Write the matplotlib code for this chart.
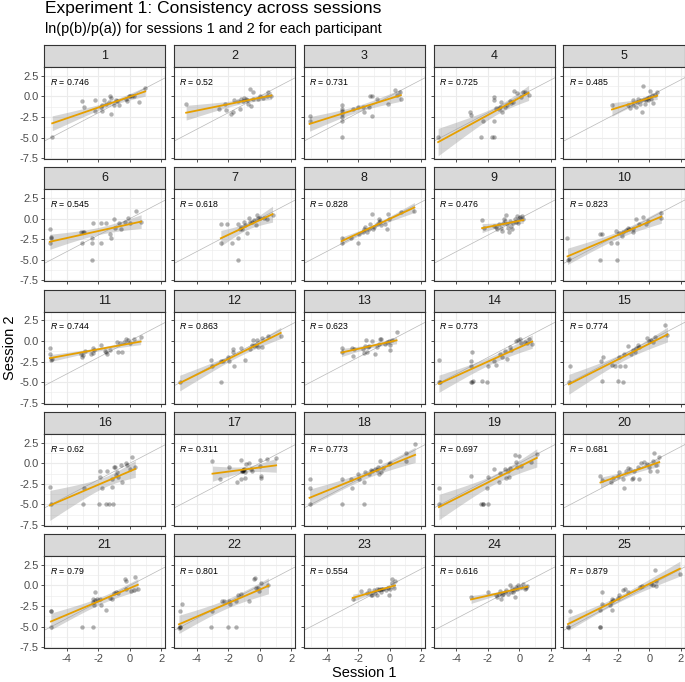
import numpy as np
import matplotlib
matplotlib.use("Agg")
import matplotlib.pyplot as plt

plt.rcParams['font.family'] = ['Liberation Sans', 'DejaVu Sans']
plt.rcParams['mathtext.fontset'] = 'custom'
plt.rcParams['mathtext.it'] = 'Liberation Sans:italic'
plt.rcParams['mathtext.rm'] = 'Liberation Sans'

# session 1 (x) and session 2 (y) log-odds, one pair of lists per participant
s1_01 = [-4.93, -3.02, -2.94, -2.19, -2.19, -1.85, -1.80, -1.74, -1.66, -1.53, -1.27, -1.17, -1.22, -1.32, -1.01, -0.90, -0.85, -0.70, -0.28, -0.20, -0.07, 0.01, 0.11, 0.29, 0.55, 0.97]
s2_01 = [-4.90, -0.62, -1.34, -0.46, -1.82, -1.26, -1.10, -1.82, -0.42, -0.94, -0.02, -0.18, -2.18, -0.70, -1.10, -0.46, -0.62, -1.02, -0.30, -0.58, 0.02, 0.06, 0.02, -0.02, -0.70, 1.02]
s1_02 = [-4.67, -2.60, -2.19, -2.13, -1.80, -1.67, -1.61, -1.35, -1.27, -1.17, -1.09, -1.01, -0.88, -0.80, -0.72, -0.62, -0.57, -0.44, -0.44, -0.10, 0.00, 0.20, 0.46, 0.54, 0.74]
s2_02 = [-0.90, -1.50, -0.90, -1.70, -2.10, -1.90, -0.42, -0.62, -1.58, -0.30, -0.62, -0.18, -0.30, -0.50, -0.90, 0.90, -1.18, 0.58, -0.30, -0.30, -0.02, -0.18, -0.02, 0.58, -0.02]
s1_03 = [-5.08, -5.03, -3.05, -3.05, -3.05, -3.05, -3.05, -3.05, -3.05, -2.35, -2.01, -1.69, -1.61, -1.30, -1.22, -1.11, -1.09, -0.78, -0.12, 0.34, 0.45, 0.66, 0.71]
s2_03 = [-2.38, -3.02, -1.10, -1.50, -1.82, -2.10, -2.50, -3.02, -4.94, -1.58, -1.34, -1.30, -1.90, -1.30, -0.02, -0.02, -2.38, -0.38, -0.90, 0.78, 0.18, 0.50, -0.30]
s1_04 = [-5.16, -3.15, -3.10, -2.45, -2.32, -1.72, -1.64, -1.64, -1.64, -1.64, -1.46, -1.33, -1.25, -1.20, -1.14, -0.93, -0.80, -0.62, -0.54, -0.41, -0.36, -0.15, 0.11, 0.24, 0.32, 0.58]
s2_04 = [-4.98, -1.90, -2.30, -4.94, -2.94, -4.94, -4.94, -0.10, -0.42, -3.02, -1.42, -1.50, -1.30, -0.70, -1.90, -1.30, -1.10, -0.62, -0.82, -0.70, 0.66, 0.42, -0.10, 0.58, 0.50, 0.10]
s1_05 = [-2.37, -1.33, -1.20, -1.06, -1.01, -0.85, -0.80, -0.72, -0.59, -0.54, -0.46, -0.41, -0.33, -0.28, -0.23, -0.15, -0.07, -0.02, 0.06, 0.11, 0.19, 0.37, 0.50, 0.24]
s2_05 = [-1.10, -1.02, -1.38, -0.42, -1.10, -1.30, -0.70, -0.30, -0.90, -0.50, -1.90, 1.30, -0.30, -0.90, -0.50, -0.22, -0.42, -0.10, 0.70, -0.30, 0.10, 0.10, 0.50, -0.78]
s1_06 = [-5.08, -5.03, -5.00, -5.08, -3.05, -3.10, -3.00, -2.89, -2.40, -2.40, -2.32, -2.40, -1.85, -1.85, -1.53, -1.24, -1.19, -0.98, -0.93, -0.67, -0.59, -0.33, -0.10, -0.02, 0.37, 0.71]
s2_06 = [-1.30, -2.22, -2.38, -2.98, -2.98, -1.58, -1.58, -1.58, -2.30, -2.98, -0.50, -4.98, -0.58, -2.98, -0.58, -1.90, -2.30, -0.10, -1.10, -0.58, -1.30, -0.38, 0.02, -0.50, 0.90, -0.42]
s1_07 = [-2.47, -2.47, -2.06, -1.74, -1.40, -1.35, -1.40, -1.27, -1.22, -1.14, -1.01, -0.96, -0.83, -0.70, -0.62, -0.49, -0.36, -0.23, -0.18, -0.10, 0.03, 0.29, 0.47, 0.81]
s2_07 = [-0.70, -2.98, -0.70, -2.98, -2.38, -4.98, -0.70, -1.30, -0.98, -1.22, -0.38, -0.82, -1.70, 0.02, -0.42, -0.38, -0.18, -0.82, 0.38, 0.10, 0.02, 0.10, -0.02, 0.42]
s1_08 = [-3.05, -3.00, -2.42, -2.00, -1.95, -1.69, -1.61, -1.56, -1.43, -1.30, -1.22, -1.09, -1.04, -0.96, -0.78, -0.70, -0.65, -0.60, -0.52, -0.31, -0.18, -0.12, -0.05, 0.74, 1.57]
s2_08 = [-2.98, -2.38, -2.38, -2.98, -1.90, -1.62, -1.30, -0.98, -1.62, -1.22, -0.70, 0.50, -1.30, -0.98, -0.70, -0.42, -0.10, -0.30, -0.78, -0.62, -1.22, 0.50, -0.10, 0.78, 0.90]
s1_09 = [-2.37, -2.24, -1.59, -1.46, -1.41, -1.33, -1.20, -1.14, -1.06, -0.99, -0.93, -0.88, -0.80, -0.72, -0.67, -0.62, -0.54, -0.46, -0.41, -0.28, -0.20, -0.15, -0.07, -0.02, 0.06, 0.16, 0.24]
s2_09 = [-0.22, -1.10, -0.90, -0.98, -1.30, -0.70, -1.10, -1.50, -0.50, -0.10, -0.30, 0.38, -0.70, -1.10, -1.62, -0.30, -0.90, -1.30, -0.58, -0.10, -0.42, 0.30, -0.58, 0.02, 0.22, 0.30, -0.10]
s1_10 = [-5.19, -5.16, -5.11, -3.10, -3.10, -3.02, -2.45, -2.06, -2.03, -2.11, -1.90, -1.72, -1.64, -1.46, -1.38, -1.27, -1.06, -1.01, -0.85, -0.67, -0.41, -0.23, -0.07, 0.71, 0.76]
s2_10 = [-2.38, -4.98, -4.90, -4.98, -1.90, -1.90, -2.98, -2.98, -4.98, -1.50, -1.70, -2.10, -1.58, -1.38, -1.10, -1.22, -1.58, -1.30, -0.10, -0.70, 0.18, -0.70, -0.30, 0.10, 0.70]
s1_11 = [-5.08, -5.06, -4.98, -4.93, -3.10, -3.02, -2.97, -2.84, -2.45, -2.37, -2.32, -2.27, -1.85, -1.61, -1.53, -1.45, -1.27, -0.80, -0.75, -0.62, -0.49, -0.36, -0.23, -0.10, 0.03, 0.24, 0.68]
s2_11 = [-0.90, -1.58, -2.30, -2.18, -1.58, -1.90, -1.70, -1.18, -1.58, -0.90, -1.50, -1.10, -0.50, -1.18, -1.38, -1.62, -1.10, -0.10, -1.30, -0.30, -1.30, -0.10, 0.18, 0.10, -0.22, 0.18, 0.50]
s1_12 = [-5.08, -3.12, -3.05, -2.45, -2.47, -2.34, -2.00, -1.95, -1.69, -1.67, -1.61, -1.22, -0.91, -0.62, -0.49, -0.44, -0.36, -0.26, -0.18, -0.10, 0.16, 0.16, 0.52, 1.33]
s2_12 = [-5.02, -2.30, -3.02, -5.02, -2.38, -2.38, -1.98, -2.38, -1.30, -1.02, -3.02, -0.90, -2.30, -0.98, -0.50, 0.10, -0.62, -0.50, 0.10, -0.70, -0.78, 0.30, 0.58, 0.62]
s1_13 = [-3.05, -3.05, -2.40, -2.34, -2.27, -1.69, -1.61, -1.56, -1.48, -1.43, -1.35, -1.30, -1.09, -0.91, -0.83, -0.70, -0.60, -0.52, -0.31, -0.18, -0.05, 0.00, 0.05, 0.13, 0.44]
s2_13 = [-0.90, -1.30, -0.90, -1.82, -1.02, -1.02, -1.42, -0.62, 0.10, -1.30, -0.70, -0.62, -0.02, -1.58, -0.70, -0.38, 0.22, 0.18, -0.38, -0.18, -0.02, -0.50, -1.10, 0.10, 1.02]
s1_14 = [-5.11, -5.11, -5.03, -3.10, -3.02, -2.94, -2.37, -2.03, -3.02, -3.07, -3.07, -1.98, -1.64, -1.51, -1.25, -1.14, -0.93, -0.80, -0.62, -0.54, -0.20, -0.10, 0.06, 0.11, 0.32, 0.50, 0.58, 0.81]
s2_14 = [-2.30, -5.02, -5.02, -5.02, -5.02, -4.90, -4.90, -4.98, -1.38, -2.38, -3.02, -3.02, -2.38, -2.90, -1.62, -1.98, -1.22, -2.22, -0.78, -1.10, -0.02, 0.10, 0.18, -0.22, -0.10, -0.30, 0.18, -0.38]
s1_15 = [-5.11, -5.06, -3.07, -2.97, -3.02, -2.37, -2.19, -1.98, -1.64, -1.85, -1.90, -1.53, -1.59, -1.33, -1.14, -1.06, -0.93, -0.85, -0.75, -0.67, -0.15, -0.02, 0.11, 0.24, 0.37, 1.02, 1.15]
s2_15 = [-5.02, -3.02, -2.38, -1.90, -4.90, -2.90, -3.02, -4.90, -5.02, -3.02, -1.90, -3.02, -1.62, -0.62, -1.58, -1.10, -1.30, -0.90, -0.50, -0.78, 0.30, 0.02, 0.10, -0.10, 0.50, 1.90, 0.70]
s1_16 = [-5.08, -5.03, -2.97, -2.89, -1.98, -1.92, -1.87, -1.80, -1.53, -1.48, -1.32, -1.14, -1.11, -1.06, -1.01, -0.93, -0.88, -0.80, -0.75, -0.54, -0.49, -0.28, -0.18, -0.02, 0.16, 0.34]
s2_16 = [-2.90, -4.98, -4.98, -2.98, -4.90, -0.90, -1.70, -2.98, -4.98, -0.98, -4.98, -1.90, -2.90, -4.98, -0.50, -0.42, -1.38, -1.10, -1.62, -0.18, -2.30, -0.02, -0.18, -0.70, 0.78, -0.50]
s1_17 = [-3.00, -2.53, -1.95, -1.43, -1.22, -1.22, -1.14, -1.09, -1.04, -1.01, -0.96, -0.96, -0.88, -0.70, -0.57, -0.49, 0.00, 0.00, 0.05, 0.05, 0.44, 1.04, -1.05, -1.10]
s2_17 = [0.30, -1.90, -0.50, -2.22, 0.38, -1.90, -0.90, -0.78, -0.98, -0.70, -1.02, -1.78, -0.10, -0.02, -0.70, -0.98, 0.38, -0.30, -1.50, -1.78, 0.50, 0.62, -0.85, -0.95]
s1_18 = [-5.08, -5.08, -5.08, -3.05, -3.00, -2.42, -2.40, -2.00, -1.95, -1.64, -1.61, -1.56, -1.30, -1.17, -1.09, -0.91, -0.83, -0.72, -0.65, -0.60, -0.52, -0.39, -0.05, 0.00, 1.04, 1.04, 1.62]
s2_18 = [-1.90, -2.98, -4.98, -1.90, -4.98, -1.90, -2.98, -1.30, -1.90, -4.98, -2.30, -1.10, -1.30, -0.82, -0.98, -0.70, -0.82, -0.50, -1.30, 0.30, -1.10, -0.58, -0.10, -0.02, 1.18, 0.30, 2.38]
s1_19 = [-5.11, -5.11, -3.07, -2.45, -2.29, -1.98, -2.03, -1.98, -1.64, -1.33, -1.25, -0.93, -0.86, -0.72, -0.67, -0.62, -0.28, -0.20, -0.15, -0.02, 0.11, 0.76, 1.10, -2.29]
s2_19 = [-2.98, -4.98, -1.50, -4.98, -4.98, -4.98, -2.98, -1.70, -0.70, -2.30, -1.22, -0.70, -1.78, -0.98, -1.62, -0.58, 0.94, 0.10, -0.50, 0.90, -0.30, 0.10, 1.10, -4.98]
s1_20 = [-3.10, -3.02, -2.45, -2.32, -1.98, -1.90, -1.64, -1.59, -1.46, -1.33, -1.25, -1.12, -1.06, -0.98, -0.75, -0.67, -0.54, -0.33, -0.15, -0.02, 0.06, 0.24, 0.32, 0.42, 0.50, 0.63]
s2_20 = [-1.50, -2.02, -2.30, -1.78, -1.50, -1.10, -1.90, -2.98, -0.90, -0.58, -0.70, -1.90, -1.78, -0.90, -0.50, -1.90, -0.02, 0.10, -0.10, -0.42, -0.90, 0.30, 1.18, -0.18, -0.98, 0.78]
s1_21 = [-5.01, -4.98, -3.02, -2.37, -2.32, -2.32, -2.27, -2.24, -2.19, -2.11, -1.92, -1.85, -1.53, -1.27, -1.14, -1.01, -0.88, -0.75, -0.31, -0.28, -0.23, 0.08, 0.24, 0.34, 0.50, -5.01]
s2_21 = [-3.06, -5.02, -5.02, -4.98, -1.58, -1.98, -2.38, -0.78, -1.78, -1.66, -1.58, -2.38, -2.98, -1.50, -1.66, -0.90, -0.78, -0.90, 0.82, 0.50, -0.38, -0.70, -0.58, 1.02, -0.38, -3.06]
s1_22 = [-5.08, -5.13, -5.06, -4.95, -3.12, -3.05, -2.40, -2.27, -2.00, -1.95, -1.87, -1.53, -1.48, -1.35, -1.22, -0.70, -0.39, -0.31, -0.23, -0.13, -0.05, 0.08, 0.55, -5.08]
s2_22 = [-5.02, -5.10, -3.10, -2.30, -5.02, -3.06, -1.90, -1.90, -5.02, -1.90, -2.30, -5.02, -1.90, -1.18, -1.02, -1.90, 0.74, 0.90, -0.30, -0.30, -0.66, 0.34, 0.10, -5.02]
s1_23 = [-2.34, -1.82, -1.43, -1.30, -1.17, -1.09, -0.99, -0.91, -0.83, -0.78, -0.70, -0.65, -0.57, -0.52, -0.47, -0.39, -0.26, -0.12, -0.05, 0.00, 0.13, 0.18, 0.26, 0.34]
s2_23 = [-1.58, -0.70, -0.86, -0.58, -1.10, -1.18, -0.58, -0.86, -1.18, -0.46, -0.38, -0.58, -0.38, -0.78, -0.46, -0.38, -0.58, -0.30, -1.18, -0.38, 0.74, 0.34, -0.30, 0.50]
s1_24 = [-3.07, -1.98, -1.46, -1.41, -1.33, -1.25, -1.20, -1.12, -1.06, -0.93, -0.88, -0.72, -0.62, -0.54, -0.46, -0.41, -0.36, -0.28, -0.20, -0.15, -0.07, 0.11, 0.24, 0.32, 0.42, 0.50]
s2_24 = [-1.38, -0.78, -1.10, -1.38, -0.98, -0.70, -1.58, -1.18, -0.98, -0.78, -0.58, -0.98, 0.10, -0.78, -0.30, -0.78, -0.58, -1.38, -0.18, -0.38, 0.10, -0.18, 0.22, -0.38, -0.30, -0.06]
s1_25 = [-5.16, -5.03, -3.15, -3.10, -3.02, -3.02, -2.50, -2.42, -2.37, -2.37, -2.32, -1.98, -1.90, -1.64, -1.53, -1.38, -0.59, -0.49, 0.11, 0.24, 0.37, 0.42, 0.45, 1.94, -5.16, -3.15]
s2_25 = [-5.02, -3.06, -5.02, -2.98, -0.78, -2.30, -2.38, -2.06, -1.58, -2.98, -1.78, -1.50, -1.18, -0.58, -0.46, -0.78, -0.18, -0.06, 0.22, 0.02, 1.82, 0.50, -0.06, 1.42, -5.02, -5.02]

session1 = [s1_01, s1_02, s1_03, s1_04, s1_05, s1_06, s1_07, s1_08, s1_09, s1_10,
            s1_11, s1_12, s1_13, s1_14, s1_15, s1_16, s1_17, s1_18, s1_19, s1_20,
            s1_21, s1_22, s1_23, s1_24, s1_25]
session2 = [s2_01, s2_02, s2_03, s2_04, s2_05, s2_06, s2_07, s2_08, s2_09, s2_10,
            s2_11, s2_12, s2_13, s2_14, s2_15, s2_16, s2_17, s2_18, s2_19, s2_20,
            s2_21, s2_22, s2_23, s2_24, s2_25]
r_labels = ["0.746", "0.52", "0.731", "0.725", "0.485", "0.545", "0.618", "0.828", "0.476", "0.823",
            "0.744", "0.863", "0.623", "0.773", "0.774", "0.62", "0.311", "0.773", "0.697", "0.681",
            "0.79", "0.801", "0.554", "0.616", "0.879"]
participants = [str(i) for i in range(1, 26)]

x_ticks = [-4, -2, 0, 2]
y_ticks = [-7.5, -5.0, -2.5, 0.0, 2.5]
xlim = (-5.45, 2.25)
ylim = (-7.6, 3.55)

W, H = 685, 682
fig = plt.figure(figsize=(W / 100, H / 100), dpi=100)


def px_axes(left, top, w, h):
    return fig.add_axes([left / W, 1 - (top + h) / H, w / W, h / H])


def smooth_band(x, y):
    # lm fit with 95% confidence band, like geom_smooth(method = "lm")
    x = np.asarray(x)
    y = np.asarray(y)
    n = len(x)
    b, a = np.polyfit(x, y, 1)
    resid = y - (a + b * x)
    s = np.sqrt(np.sum(resid ** 2) / (n - 2))
    sxx = np.sum((x - x.mean()) ** 2)
    t = 1.96 + 2.4 / (n - 2)
    xs = np.linspace(x.min(), x.max(), 80)
    fit = a + b * xs
    se = s * np.sqrt(1 / n + (xs - x.mean()) ** 2 / sxx)
    return xs, fit, fit - t * se, fit + t * se


col_pitch, row_pitch = 129.85, 122.3
pw, ph, sh = 121.4, 92, 22

for i in range(25):
    r, c = divmod(i, 5)
    left = 44 + c * col_pitch
    ptop = 67 + r * row_pitch

    sax = px_axes(left, ptop - sh, pw, sh)
    sax.set_facecolor("#d9d9d9")
    sax.set_xticks([])
    sax.set_yticks([])
    for sp in sax.spines.values():
        sp.set_color("#333333")
        sp.set_linewidth(0.8)
    sax.text(0.5, 0.5, participants[i], ha="center", va="center",
             fontsize=9, color="#1a1a1a", transform=sax.transAxes)

    ax = px_axes(left, ptop, pw, ph)
    ax.set_xlim(*xlim)
    ax.set_ylim(*ylim)
    ax.set_xticks(x_ticks)
    ax.set_xticks([-5, -3, -1, 1], minor=True)
    ax.set_yticks(y_ticks)
    ax.set_yticks([-6.25, -3.75, -1.25, 1.25], minor=True)
    ax.grid(which="major", color="#ebebeb", linewidth=0.8)
    ax.grid(which="minor", color="#ebebeb", linewidth=0.4)
    ax.set_axisbelow(True)
    ax.tick_params(which="minor", length=0)
    ax.tick_params(which="major", length=2.5, width=0.6, color="#333333",
                   labelsize=8, labelcolor="#4d4d4d", pad=1.5)
    for sp in ax.spines.values():
        sp.set_color("#333333")
        sp.set_linewidth(0.8)

    if c == 0:
        ax.set_yticklabels([f"{v:.1f}" for v in y_ticks])
    else:
        ax.tick_params(axis="y", labelleft=False)
    if r == 4:
        ax.set_xticklabels([str(v) for v in x_ticks])
    else:
        ax.tick_params(axis="x", labelbottom=False)

    ax.plot(xlim, xlim, color="#b8b8b8", linewidth=0.5, zorder=1)

    xs, fit, lo, hi = smooth_band(session1[i], session2[i])
    ax.fill_between(xs, lo, hi, color="#999999", alpha=0.4, linewidth=0, zorder=2)
    ax.scatter(session1[i], session2[i], s=10, color="black", alpha=0.3,
               linewidths=0, zorder=3)
    ax.plot(xs, fit, color="#E69F00", linewidth=1.3, zorder=4)

    ax.text(-5.1, 1.75, r"$\it{R}$ = " + r_labels[i], fontsize=6.3,
            color="black", ha="left", va="center")

fig.text(45 / W, 1 - 9 / H, "Experiment 1: Consistency across sessions",
         fontsize=12.5, ha="left", va="center", color="black")
fig.text(45 / W, 1 - 29.5 / H, "ln(p(b)/p(a)) for sessions 1 and 2 for each participant",
         fontsize=10.4, ha="left", va="center", color="black")
fig.text((44 + 685) / 2 / W, 1 - 673 / H, "Session 1", fontsize=10.5,
         ha="center", va="center")
fig.text(10 / W, 1 - 348 / H, "Session 2", fontsize=10.5, rotation=90,
         ha="center", va="center")

plt.savefig("out.png", dpi=100)
